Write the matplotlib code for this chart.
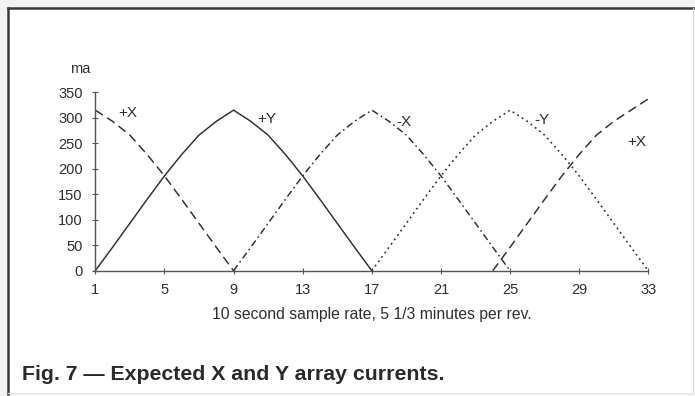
import matplotlib
matplotlib.use("Agg")
import matplotlib.pyplot as plt
from matplotlib.patches import Rectangle
from matplotlib.lines import Line2D

plt.rcParams['font.family'] = ['Liberation Sans', 'DejaVu Sans']
plt.rcParams['lines.scale_dashes'] = False

# Sample index (10 s per sample) and coil currents in mA
x_plus_x_a = list(range(1, 10))
plus_x_a = [315, 293, 266, 228, 186, 140, 93, 46, 0]

x_plus_y = list(range(1, 18))
plus_y = [0, 46, 93, 140, 186, 228, 266, 293, 315, 293, 266, 228, 186, 140, 93, 46, 0]

x_minus_x = list(range(9, 26))
minus_x = [0, 46, 93, 140, 186, 228, 266, 293, 315, 293, 266, 228, 186, 140, 93, 46, 0]

x_minus_y = list(range(17, 34))
minus_y = [0, 46, 93, 140, 186, 228, 266, 293, 315, 293, 266, 228, 186, 140, 93, 46, 0]

x_plus_x_b = list(range(24, 34))
plus_x_b = [0, 46, 93, 140, 186, 228, 266, 293, 315, 337]

x_ticks = [1, 5, 9, 13, 17, 21, 25, 29, 33]
y_ticks = [0, 50, 100, 150, 200, 250, 300, 350]

ink = '#2e2e2e'
axis_col = '#555555'

fig = plt.figure(figsize=(6.95, 3.96), dpi=100)
fig.patch.set_facecolor('#f2f2f2')

# Page panel with a heavy rule on the top and left edges
W, H = 695, 396
fig.add_artist(Rectangle((8 / W, 1 - 393 / H), 685 / W, 385 / H,
                         transform=fig.transFigure, facecolor='white',
                         edgecolor='none', zorder=0))
fig.add_artist(Line2D([8 / W, 8 / W], [1 - 394 / H, 1 - 8 / H],
                      transform=fig.transFigure, color='#3a3a3a', lw=1.8))
fig.add_artist(Line2D([8 / W, 694 / W], [1 - 8 / H, 1 - 8 / H],
                      transform=fig.transFigure, color='#3a3a3a', lw=1.8))
fig.add_artist(Line2D([693 / W, 693 / W], [1 - 393 / H, 1 - 8 / H],
                      transform=fig.transFigure, color='#dddddd', lw=0.8))
fig.add_artist(Line2D([8 / W, 693 / W], [1 - 393 / H, 1 - 393 / H],
                      transform=fig.transFigure, color='#e4e4e4', lw=0.8))

ax = fig.add_axes([95.3 / W, 1 - 270.7 / H, (648.3 - 95.3) / W, (270.7 - 92.3) / H])
ax.set_facecolor('none')

lw = 1.05
ax.plot(x_plus_x_a, plus_x_a, color=ink, lw=lw, dashes=(6.5, 3.6), clip_on=False)
ax.plot(x_plus_y, plus_y, color=ink, lw=lw, clip_on=False)
ax.plot(x_minus_x, minus_x, color=ink, lw=lw, dashes=(5, 2.4, 1.2, 2.4), clip_on=False)
ax.plot(x_minus_y, minus_y, color=ink, lw=1.15, dashes=(1.3, 2.6), clip_on=False)
ax.plot(x_plus_x_b, plus_x_b, color=ink, lw=lw, dashes=(6.5, 3.6), clip_on=False)

label_kw = dict(color=ink, fontsize=11, ha='center', va='center')
ax.text(2.88, 309, '+X', **label_kw)
ax.text(10.9, 297, '+Y', **label_kw)
ax.text(18.86, 291, '-X', **label_kw)
ax.text(26.82, 295, '-Y', **label_kw)
ax.text(32.35, 252, '+X', **label_kw)

ax.set_xlim(1, 33)
ax.set_ylim(0, 350)
ax.set_xticks(x_ticks)
ax.set_yticks(y_ticks)
for s in ('top', 'right'):
    ax.spines[s].set_visible(False)
for s in ('left', 'bottom'):
    ax.spines[s].set_color(axis_col)
    ax.spines[s].set_linewidth(1.0)
ax.tick_params(axis='both', direction='inout', length=4, width=0.8,
               color=axis_col, labelcolor=ink, labelsize=10.5)
ax.tick_params(axis='x', pad=7)
ax.tick_params(axis='y', pad=7)

ax.set_xlabel('10 second sample rate, 5 1/3 minutes per rev.',
              fontsize=11.3, color=ink, labelpad=7)
fig.text(80 / W, 1 - 69 / H, 'ma', fontsize=10.5, color=ink,
         ha='center', va='center')

fig.text(22 / W, 1 - 375 / H, 'Fig. 7 \u2014 Expected X and Y array currents.',
         fontsize=15.3, fontweight='bold', color='#2a2a2a',
         ha='left', va='center')

fig.savefig('out.png', dpi=100, facecolor=fig.get_facecolor())
